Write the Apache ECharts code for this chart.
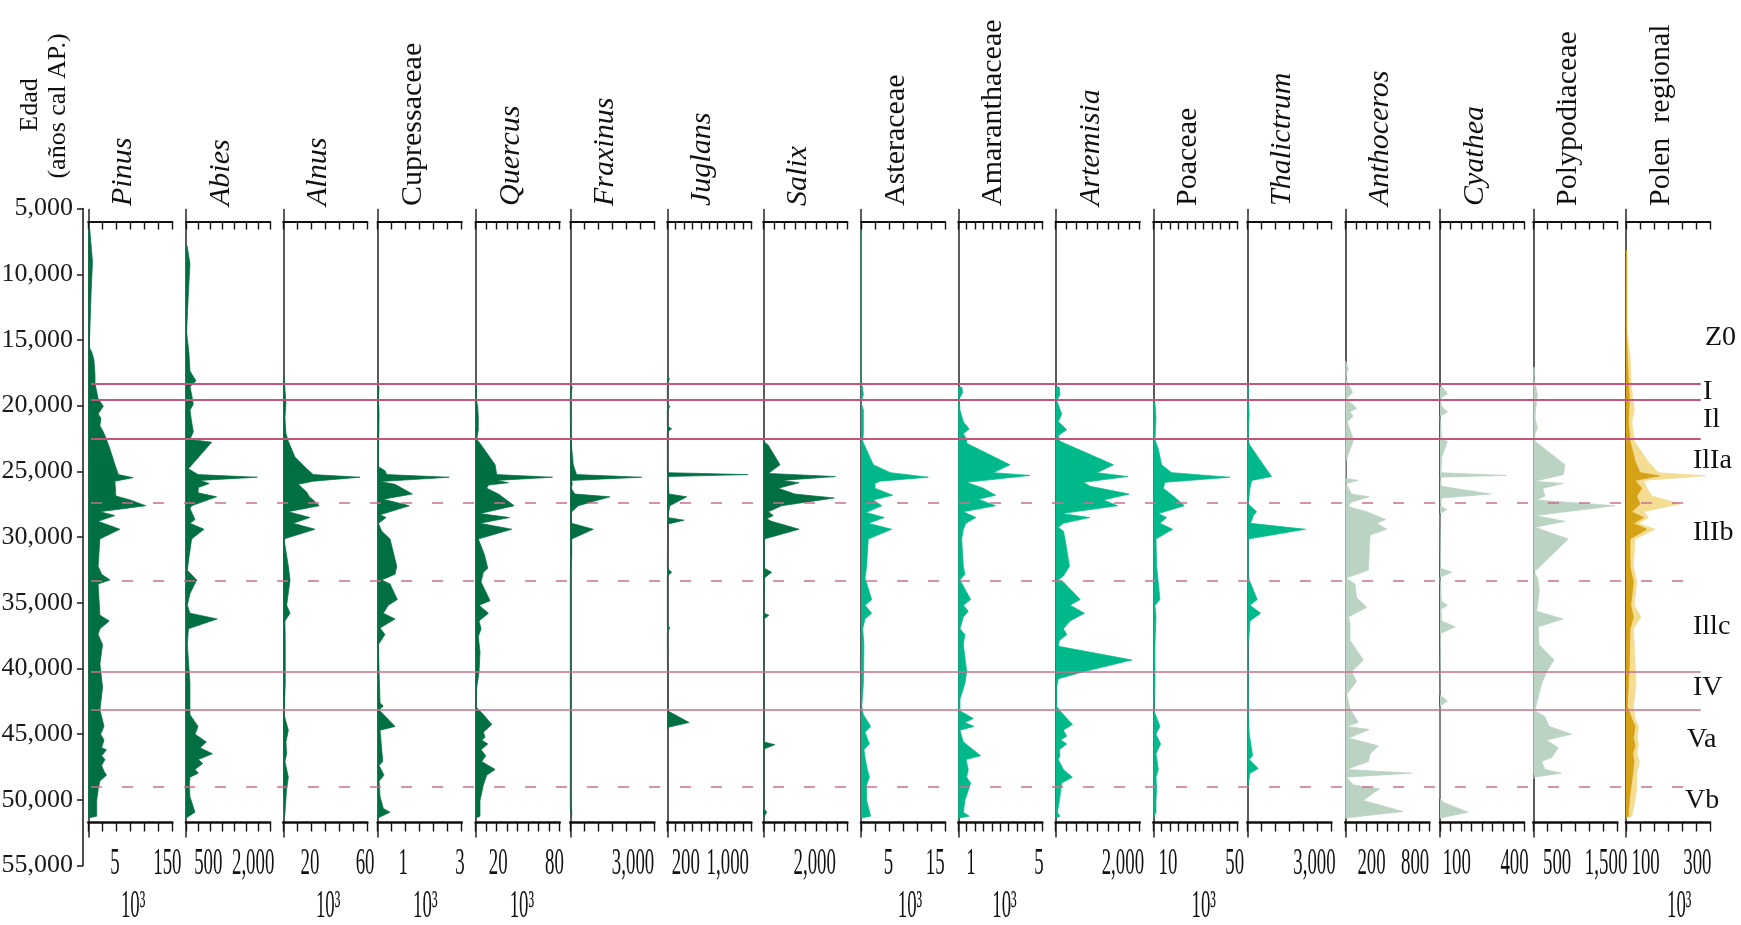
<!DOCTYPE html>
<html>
<head>
<meta charset="utf-8">
<title>Diagrama polínico</title>
<script src="https://cdn.jsdelivr.net/npm/echarts@6/dist/echarts.min.js"></script>
<style>
  html, body { margin: 0; padding: 0; background: #ffffff; }
  #chart { width: 1741px; height: 925px; }
</style>
</head>
<body>
<div id="chart"></div>
<script>
// ---------------------------------------------------------------------------
// Concentraciones por taxón: pares [edad cal AP, valor en unidades de escala]
// ---------------------------------------------------------------------------
const pinus = [[6520,0.1],[9050,0.3],[11430,0.2],[15590,0.07],[15890,0.24],[16480,0.4],[17670,0.48],[18320,0.48],[19450,0.7],[20050,1.07],[20640,0.7],[20940,0.9],[21530,0.83],[21980,1.07],[22570,1.3],[23320,1.55],[24800,2.0],[25250,2.15],[25480,3.2],[25750,1.9],[26880,1.97],[27180,3.0],[27620,4.1],[28070,0.83],[28370,1.9],[28810,0.7],[29410,2.26],[30150,0.83],[32230,0.7],[32830,0.95],[33270,1.55],[33570,0.7],[35200,0.79],[35950,0.83],[36390,1.5],[36990,0.83],[37430,0.7],[38180,1.02],[39660,0.83],[41440,1.02],[43170,0.83],[43670,0.95],[44420,1.12],[45010,0.88],[45460,1.12],[46050,0.95],[46200,1.3],[46650,0.95],[46940,1.19],[47390,0.95],[47830,1.12],[48130,1.3],[48580,0.83],[49170,0.71],[50060,0.6],[51250,0.6],[51400,0]];
const abies = [[7860,0.1],[9200,0.33],[11430,0.2],[14400,0.05],[16030,0.25],[17370,0.33],[18110,0.83],[18560,0.33],[19150,0.47],[19900,0.61],[20340,0.33],[21230,0.47],[21980,0.61],[22570,0.33],[22780,2.14],[24800,0.2],[25250,1.0],[25450,5.94],[25690,1.17],[25930,1.94],[26230,1.03],[26640,1.0],[26940,2.55],[27620,0.47],[27830,0.33],[28670,0.75],[28960,0.33],[29410,1.5],[30150,0.47],[31340,0.28],[32530,0.11],[33270,0.89],[34310,0.33],[35200,0.11],[35800,0.33],[36240,2.6],[36990,0.2],[38180,0.11],[41150,0.33],[43520,0.33],[44420,1.0],[45010,0.75],[45600,1.7],[46050,1.17],[46500,2.2],[46940,1.03],[47240,1.39],[47690,0.75],[47980,1.03],[48280,0.33],[48870,0.28],[49770,0.33],[50950,0.75],[51400,0]];
const alnus = [[17820,0.05],[19750,0.19],[20940,0.12],[22130,0.19],[22720,0.36],[23910,0.83],[24800,1.67],[25250,2.14],[25450,5.48],[25750,2.14],[25990,1.07],[26580,1.67],[26940,1.86],[27180,2.14],[27620,2.57],[28070,0.36],[28520,1.9],[28960,0.71],[29410,2.26],[30150,0.05],[32230,0.36],[33270,0.48],[35200,0.24],[35800,0.48],[36390,0.12],[38180,0.14],[41150,0.14],[43520,0.05],[44710,0.36],[45600,0.19],[46500,0.24],[47090,0.12],[48280,0.36],[49170,0.24],[51250,0.1],[51400,0]];
const cupressaceae = [[18560,0.1],[19450,0.05],[20640,0.1],[22720,0.07],[24650,0.05],[24950,0.52],[25250,0.64],[25450,5.1],[25780,0.17],[25990,1.24],[26730,2.48],[27120,0.4],[27620,2.26],[28310,0.17],[28520,0.6],[28960,0.05],[29560,0.29],[30150,0.88],[32230,1.36],[32830,1.24],[33270,0.29],[33570,0.88],[34760,1.4],[35200,0.76],[35800,0.4],[36240,1.24],[36930,0.17],[37430,0.52],[38180,0.05],[40260,0.1],[42630,0.17],[42870,0.4],[43170,0.1],[44420,1.24],[44710,0.17],[47090,0.36],[47390,0.1],[48130,0.45],[48580,0.1],[49770,0.17],[50660,0.4],[50950,0.88],[51400,0]];
const quercus = [[18560,0.1],[19450,0.03],[20050,0.19],[20940,0.25],[21830,0.25],[22570,0.1],[22870,0.41],[24500,1.85],[25250,2.0],[25450,7.32],[25690,2.0],[25870,3.12],[26050,1.21],[26290,1.05],[26730,2.17],[27620,3.66],[28220,0.41],[28520,3.22],[28960,0.41],[29410,3.44],[30150,0.25],[31340,0.83],[32380,1.15],[32680,0.73],[33420,0.51],[34850,1.37],[35200,0.32],[35800,1.21],[36390,0.32],[36990,0.51],[37580,0.25],[38770,0.41],[40260,0.32],[41440,0.1],[42930,0.03],[43520,0.73],[44270,1.53],[44860,0.73],[45250,0.89],[45460,0.57],[45750,1.15],[46200,0.51],[46650,0.96],[47090,0.57],[47690,1.85],[48130,1.05],[48870,0.73],[50060,0.41],[51250,0.41],[51400,0]];
const fraxinus = [[18560,0.14],[19000,0.05],[19450,0],[20340,0],[20490,0.14],[20790,0],[22720,0.05],[24500,0.21],[25250,0.45],[25450,5.1],[25690,0.1],[25990,0.14],[26290,0.05],[26730,0.33],[26940,2.83],[27620,0.57],[28130,0.05],[28960,0.1],[29410,1.64],[30150,0.1],[31340,0.1],[32680,0],[45460,0],[45600,0.14],[45750,0],[50510,0],[50810,0.1],[51250,0.1],[51400,0]];
const juglans = [[17910,0.28],[18260,0.04],[18560,0],[19900,0],[20050,0.3],[20340,0],[21530,0],[21770,0.52],[21980,0],[25100,0],[25250,9.6],[25400,0],[26730,0.2],[26940,2.3],[27620,0.3],[28520,0.04],[28720,2.0],[29020,0.04],[32380,0],[32680,0.52],[32970,0],[36690,0],[36930,0.3],[37220,0],[43230,0.04],[43380,0.2],[44120,2.6],[44480,0.12],[44710,0]];
const salix = [[22720,0],[23020,0.48],[24500,1.59],[25160,0.48],[25400,6.86],[25690,1.75],[25870,3.4],[26290,1.43],[26730,3.0],[27030,6.76],[27620,1.75],[28070,0.48],[28370,0.95],[28610,0.32],[28810,0.79],[29410,3.4],[30150,0.1],[32380,0.1],[32680,0.79],[33120,0.1],[35800,0.06],[35950,0.54],[36240,0.06],[45600,0.06],[45810,1.1],[46140,0.06],[50660,0.06],[50950,0.32],[51400,0]];
const asteraceae = [[6600,0],[6750,0.1],[6950,0],[18300,0],[18560,0.1],[19150,0.17],[19750,0],[20340,0.17],[22130,0.17],[22720,0.12],[24500,0.88],[25100,2.1],[25450,4.81],[25750,1.36],[25930,1.0],[26290,1.0],[26820,2.26],[27180,0.88],[27620,1.48],[28130,0.36],[28520,1.67],[28960,0.52],[29410,2.19],[30150,0.52],[32230,0.4],[33120,0.29],[34760,0.76],[35200,0.29],[35800,0.76],[36240,0.29],[36990,0.12],[38180,0.21],[41150,0.17],[42930,0.05],[43520,0.17],[44420,0.69],[44860,0.29],[45750,0.6],[46200,0.21],[46790,0.29],[47690,0.45],[48280,0.6],[48870,0.4],[50060,0.4],[51250,0.69],[51400,0]];
const amaranthaceae = [[18560,0.4],[19000,0.52],[19450,0.12],[20340,0.2],[21230,0.6],[21770,1.3],[22130,0.6],[22570,1.0],[22870,1.0],[24500,6.15],[25100,4.17],[25310,8.53],[25840,1.0],[26290,2.98],[26820,4.44],[27120,2.38],[27620,4.44],[28070,0.6],[28520,2.1],[28960,0.91],[29410,0.6],[30150,0.4],[32230,0.6],[32830,0.79],[33270,0.2],[34760,1.47],[35200,0.6],[35650,1.19],[36090,0.6],[36990,0.2],[37430,0.79],[38180,0.6],[40260,1.0],[41150,0.79],[42340,0.2],[43230,0.2],[43820,1.79],[44120,0.79],[44420,1.87],[44710,0.2],[45600,0.6],[46650,2.66],[46940,0.91],[47690,1.19],[48280,0.99],[48730,1.47],[50060,0.79],[50950,0.6],[51250,1.31],[51400,0]];
const artemisia = [[18560,0.32],[19150,0.41],[19600,0.1],[20640,0.57],[21230,0.25],[21830,1.05],[22270,0.25],[22720,0.41],[24500,5.51],[25100,3.92],[25400,6.85],[25840,2.64],[26140,3.28],[26730,7.0],[27180,4.55],[27620,5.89],[28220,0.57],[28520,3.22],[28960,0.73],[29260,0.25],[29560,0.73],[30150,0.89],[32230,1.31],[32970,0.73],[33270,0.25],[33420,0.73],[34760,2.33],[35200,1.37],[35800,2.74],[36390,1.37],[36990,0.73],[37430,1.05],[37880,0.35],[38320,0.25],[39360,7.26],[40260,2.64],[40790,0.25],[41440,0.1],[42930,0.1],[43520,0.73],[44270,1.59],[44710,0.73],[45160,1.05],[45460,0.48],[45750,1.05],[46200,0.35],[46650,0.41],[46940,0.25],[47690,0.73],[48280,1.59],[48730,0.57],[50060,0.35],[50950,0.16],[51250,0.41],[51400,0]];
const poaceae = [[19750,0.2],[20940,0.32],[22570,0.2],[23320,0.6],[24500,0.99],[25100,2.18],[25450,9.13],[25840,1.39],[26290,1.19],[26880,2.38],[27620,3.69],[28220,0.6],[28520,1.59],[28960,0.79],[29410,2.3],[30150,0.32],[32230,0.4],[34760,0.79],[35200,0.2],[36090,0.32],[38180,0.2],[41150,0.2],[43230,0.08],[44420,0.79],[45010,0.32],[45750,0.87],[46500,0.32],[47690,0.6],[48280,0.32],[49170,0.4],[50060,0.32],[50950,0.32],[51400,0]];
const thalictrum = [[18560,0.09],[19450,0.05],[20640,0.14],[21530,0.09],[22720,0.07],[23020,0.19],[24500,1.14],[25400,1.73],[25690,0.31],[26290,0.19],[27480,0.07],[28070,0.66],[28370,0.43],[28960,0.24],[29410,4.15],[30150,0.07],[33120,0.07],[33720,0.31],[34760,0.71],[35200,0.19],[35800,0.95],[36390,0.19],[37280,0.14],[38180,0.05],[43520,0.07],[45010,0.14],[46650,0.38],[46940,0.14],[47630,0.78],[47980,0.19],[49020,0.05],[49170,0]];
const anthoceros = [[16630,0.06],[17220,0.29],[17520,0.13],[17970,0.06],[19000,0.7],[19450,0.13],[20190,1.08],[20490,0.45],[20790,0.76],[21230,0.19],[22420,0.7],[22720,0.76],[23320,0.45],[24210,0.06],[25540,0.06],[25690,1.24],[25930,0.06],[26730,0.61],[26940,2.29],[27330,0.61],[27620,0.29],[27770,0.61],[28070,2.04],[28670,3.85],[28960,3.0],[29410,3.95],[29850,2.36],[30750,2.29],[32530,2.2],[33120,0.06],[33570,0.92],[34610,1.08],[35350,2.04],[36090,0.29],[36540,0.45],[37880,0.45],[39360,1.72],[40260,0.61],[41000,1.08],[41980,0.13],[43080,0.45],[44120,1.24],[44420,0.13],[44650,2.29],[45310,0.29],[45900,3.15],[46500,2.36],[47090,2.2],[47690,0.13],[47980,6.3],[48280,0.13],[48870,0.76],[49170,3.31],[49470,2.68],[50060,1.72],[50900,5.5],[51400,0]];
const cyathea = [[18560,0.16],[19090,0.71],[19450,0],[20050,0.16],[20490,0.71],[20790,0],[22570,0.16],[22720,0.71],[23910,0.16],[25100,0.1],[25310,6.29],[25450,0],[26140,0.16],[26730,4.84],[27030,0.16],[27620,0],[27920,0.65],[28220,0],[32380,0.06],[32680,1.13],[33060,0],[34910,0.16],[35200,0.71],[35500,0.1],[36390,0.16],[36840,1.45],[37340,0.06],[42040,0],[42480,0.71],[42870,0],[49910,0],[50210,0.32],[50950,2.68],[51400,0]];
const polypodiaceae = [[17070,0.12],[17970,0.05],[19150,0.29],[20050,0.19],[20940,0.12],[21680,0.29],[22130,0.12],[22720,0.12],[24500,2.26],[25250,2.14],[25750,0.12],[25930,2.14],[26290,0.67],[26880,0.83],[27180,0.24],[27620,5.83],[28370,0.12],[28810,2.26],[29260,0.12],[30150,2.5],[32680,0.05],[33120,0.31],[34010,0.43],[35200,0.31],[35650,0.24],[36240,2.14],[36840,0.36],[38180,0.4],[39360,1.48],[40260,0.95],[41150,0.6],[42630,0.24],[43230,0.12],[43670,0.83],[44420,1.14],[45010,2.74],[45460,0.95],[46050,1.79],[46790,1.31],[47090,0.6],[47690,0.83],[47980,2.0],[48280,0.05],[48430,0]];
const polenRegionalTotal = [[8160,0.05],[14400,0.07],[16180,0.29],[18260,0.36],[19450,0.48],[20340,0.6],[21230,0.41],[22720,0.6],[24210,1.55],[25100,2.3],[25340,5.7],[25690,1.25],[26290,1.49],[26880,1.85],[27480,3.88],[28070,1.25],[28520,1.61],[28960,0.89],[29410,2.09],[30150,0.65],[32230,0.53],[33420,0.77],[35200,0.58],[36090,1.06],[36990,0.53],[39660,0.65],[41150,0.72],[42930,0.53],[43820,0.65],[44420,0.89],[45310,0.82],[45900,0.89],[46500,0.77],[47090,0.96],[47980,0.77],[49170,0.77],[50060,0.65],[51250,0.41],[51400,0]];
const polenRegional = [[8160,0.05],[14400,0.05],[16180,0.1],[18260,0.17],[19450,0.24],[21230,0.17],[22720,0.29],[24210,0.65],[25100,1.0],[25340,2.4],[25690,0.65],[26290,1.12],[26880,0.77],[27480,1.0],[28070,0.41],[28520,1.25],[28960,0.53],[29410,1.49],[30150,0.29],[32230,0.29],[33420,0.53],[35200,0.34],[36090,0.53],[36990,0.29],[39660,0.24],[41150,0.17],[42930,0.1],[43820,0.41],[44420,0.65],[45310,0.53],[45900,0.65],[46500,0.48],[47090,0.58],[47980,0.48],[49170,0.34],[50060,0.24],[51250,0.17],[51400,0]];

// Nombres de los taxones (columna por columna)
const taxonNames = ['Pinus','Abies','Alnus','Cupressaceae','Quercus','Fraxinus','Juglans','Salix','Asteraceae','Amaranthaceae','Artemisia','Poaceae','Thalictrum','Anthoceros','Cyathea','Polypodiaceae','Polen  regional'];
const taxonItalic = [true,true,true,false,true,true,true,true,false,false,true,false,true,true,true,false,false];
// Número de divisiones de cada escala horizontal
const scaleDivisions = [6,7,6,6,8,6,10,8,6,10,8,10,6,8,8,6,6];
// Rótulos de escala: [posición en divisiones, texto]
const scaleLabels = [
  [[1.9,'5'],[5.65,'150']],
  [[1.86,'500'],[5.6,'2,000']],
  [[1.9,'20'],[5.84,'60']],
  [[1.83,'1'],[5.88,'3']],
  [[2.15,'20'],[7.5,'80']],
  [[4.48,'3,000']],
  [[2.2,'200'],[7.2,'1,000']],
  [[4.9,'2,000']],
  [[1.97,'5'],[5.3,'15']],
  [[1.5,'1'],[9.6,'5']],
  [[6.4,'2,000']],
  [[1.75,'10'],[9.7,'50']],
  [[4.8,'3,000']],
  [[2.5,'200'],[6.65,'800']],
  [[1.6,'100'],[7.1,'400']],
  [[1.7,'500'],[5.2,'1,500']],
  [[1.4,'100'],[5.1,'300']]
];
// Factor ×10³ bajo la escala (posición en divisiones; null = sin factor)
const unitLabelPos = [3.2,null,3.2,3.4,4.4,null,null,null,3.5,5.5,null,6.0,null,null,null,null,3.8];
const unitLabelText = '10³';

// Límites de zonas polínicas (edad) y tipo de línea
const zoneBoundaries = [18320, 19570, 22510, 27390, 33330, 40255, 43165, 49050];
const zoneDashed = [false, false, false, true, true, false, false, true];
const zoneNames = ['Z0','I','Il','IlIa','IlIb','Illc','IV','Va','Vb'];
const zoneNameAges = [14850, 18940, 21090, 24150, 29700, 36860, 41500, 45460, 50060];

// Eje de edades
const ageMin = 5000, ageMax = 55000, ageStep = 5000;

// ---------------------------------------------------------------------------
// Estilo y composición
// ---------------------------------------------------------------------------
const FONT = '"Liberation Serif", "Times New Roman", serif';
const C_TREE = '#006f41', C_HERB = '#00b98a', C_FERN = '#bad3c2', C_REG = '#d5a117', C_REG_LIGHT = '#f4dc92';
const taxonColors = [C_TREE,C_TREE,C_TREE,C_TREE,C_TREE,C_TREE,C_TREE,C_TREE,C_HERB,C_HERB,C_HERB,C_HERB,C_HERB,C_FERN,C_FERN,C_FERN,C_REG];
const taxonLayers = [
  [pinus],[abies],[alnus],[cupressaceae],[quercus],[fraxinus],[juglans],[salix],
  [asteraceae],[amaranthaceae],[artemisia],[poaceae],[thalictrum],
  [anthoceros],[cyathea],[polypodiaceae],[polenRegionalTotal, polenRegional]
];

const PANEL_LEFT = [88.3,186,283.3,377.7,475.7,570.3,667.3,763.3,861,958.3,1055.7,1153.3,1247.3,1345.3,1440,1533.3,1626];
const PANEL_W = 84;
const Y_AT_MIN = 208.6, Y_AT_MAX = 865.4;              // píxeles de 5,000 y 55,000
const PX_PER_YR = (Y_AT_MAX - Y_AT_MIN) / (ageMax - ageMin);
const PANEL_TOP = 209.5, PANEL_BOTTOM = 837;
const TOP_AXIS_Y = 221.5, BOTTOM_AXIS_Y = 822.5;
const ZONE_LEFT = 91, ZONE_RIGHT = 1700.7;
const zoneNameX = [1705,1703,1703,1693,1693,1693,1693,1687,1685];
const ageAtPx = y => ageMin + (y - Y_AT_MIN) / PX_PER_YR;
const thousands = v => String(v).replace(/\B(?=(\d{3})+(?!\d))/g, ',');

const chart = echarts.init(document.getElementById('chart'), null, { renderer: 'canvas', width: 1741, height: 925 });

const grids = [{
  left: ZONE_LEFT, top: Y_AT_MIN, width: ZONE_RIGHT - ZONE_LEFT, height: Y_AT_MAX - Y_AT_MIN,
  outerBoundsMode: 'none', show: false
}];
const xAxes = [{ gridIndex: 0, type: 'value', min: 0, max: 1, show: false }];
const yAxes = [{
  gridIndex: 0, type: 'value', min: ageMin, max: ageMax, interval: ageStep, inverse: true,
  position: 'left', offset: 8,
  axisLine: { show: true, onZero: false, lineStyle: { color: '#222', width: 1.6 } },
  axisTick: { show: true, inside: false, length: 6, lineStyle: { color: '#222', width: 1.6 } },
  axisLabel: { show: true, margin: 10, formatter: v => thousands(v), fontFamily: FONT, fontSize: 26, color: '#1a1a1a' },
  splitLine: { show: false }
}];
const series = [];

taxonNames.forEach((name, i) => {
  const g = i + 1;
  grids.push({ left: PANEL_LEFT[i], top: PANEL_TOP, width: PANEL_W, height: PANEL_BOTTOM - PANEL_TOP, outerBoundsMode: 'none', show: false });
  const axisBase = {
    gridIndex: g, type: 'value', min: 0, max: scaleDivisions[i], interval: 1,
    axisLabel: { show: false }, splitLine: { show: false }
  };
  xAxes.push(Object.assign({}, axisBase, {
    position: 'top', offset: -(TOP_AXIS_Y - PANEL_TOP),
    axisLine: { show: true, onZero: false, lineStyle: { color: '#111', width: 2.2 } },
    axisTick: { show: true, inside: true, length: 8, lineStyle: { color: '#111', width: 1.4 } }
  }));
  xAxes.push(Object.assign({}, axisBase, {
    position: 'bottom', offset: -(PANEL_BOTTOM - BOTTOM_AXIS_Y),
    axisLine: { show: true, onZero: false, lineStyle: { color: '#111', width: 2.6 } },
    axisTick: { show: true, inside: false, length: 9, lineStyle: { color: '#111', width: 1.4 } }
  }));
  yAxes.push({
    gridIndex: g, type: 'time', min: ageAtPx(PANEL_TOP), max: ageAtPx(PANEL_BOTTOM), inverse: true,
    axisLine: { show: true, onZero: false, lineStyle: { color: '#333', width: 1.6 } },
    axisTick: { show: false }, axisLabel: { show: false }, splitLine: { show: false }
  });
  taxonLayers[i].forEach((layer, k) => {
    const color = (i === 16 && k === 0) ? C_REG_LIGHT : taxonColors[i];
    series.push({
      type: 'line', name: name,
      xAxisIndex: 2 * i + 2, yAxisIndex: g,
      data: layer.map(([age, v]) => [v, age]),
      symbol: 'none', showSymbol: false, silent: true, z: 2 + k,
      lineStyle: { color: color, width: 0.7 },
      areaStyle: { color: color, opacity: 1 }
    });
  });
});

// Líneas de zonas sobre todas las columnas
const solidStyle = k => ({ type: 'solid', color: k < 3 ? '#c2557c' : '#c9708f', width: k < 3 ? 2 : 1.5 });
const dashStyle = { type: [11, 20], color: '#c9708f', width: 1.6 };
series.push({
  type: 'line', xAxisIndex: 0, yAxisIndex: 0, data: [], silent: true, z: 10,
  markLine: {
    silent: true, symbol: ['none', 'none'], animation: false,
    label: { show: false },
    data: zoneBoundaries.map((age, k) => ({ yAxis: age, lineStyle: zoneDashed[k] ? dashStyle : solidStyle(k) }))
  }
});

chart.setOption({
  animation: false,
  backgroundColor: '#ffffff',
  grid: grids, xAxis: xAxes, yAxis: yAxes, series: series
});

// Textos: títulos, rótulos de escala y nombres de zona
const graphics = [];
const textStyle = (text, size, extra) => Object.assign({ text: text, fontFamily: FONT, fontSize: size, fill: '#111' }, extra || {});

graphics.push({ type: 'text', x: 30, y: 105, rotation: Math.PI / 2, silent: true,
  style: textStyle('Edad', 26, { textAlign: 'center', textVerticalAlign: 'middle' }) });
graphics.push({ type: 'text', x: 58, y: 106, rotation: Math.PI / 2, silent: true,
  style: textStyle('(años cal AP.)', 26, { textAlign: 'center', textVerticalAlign: 'middle' }) });

taxonNames.forEach((name, i) => {
  graphics.push({ type: 'text', x: PANEL_LEFT[i] + 35, y: 206, rotation: Math.PI / 2, silent: true,
    style: textStyle(name, 30, { fontStyle: taxonItalic[i] ? 'italic' : 'normal', textAlign: 'left', textVerticalAlign: 'middle' }) });
  scaleLabels[i].forEach(([pos, text]) => {
    const x = chart.convertToPixel({ xAxisIndex: 2 * i + 2 }, pos);
    graphics.push({ type: 'text', x: x, y: 864, scaleX: 0.51, silent: true,
      style: textStyle(text, 37, { textAlign: 'center', textVerticalAlign: 'middle' }) });
  });
  if (unitLabelPos[i] != null) {
    const x = chart.convertToPixel({ xAxisIndex: 2 * i + 2 }, unitLabelPos[i]);
    graphics.push({ type: 'text', x: x, y: 906, scaleX: 0.47, silent: true,
      style: textStyle(unitLabelText, 40, { textAlign: 'center', textVerticalAlign: 'middle' }) });
  }
});

zoneNames.forEach((z, k) => {
  const y = chart.convertToPixel({ yAxisIndex: 0 }, zoneNameAges[k]);
  graphics.push({ type: 'text', x: zoneNameX[k], y: y, silent: true,
    style: textStyle(z, 28, { textAlign: 'left', textVerticalAlign: 'middle' }) });
});

chart.setOption({ graphic: { elements: graphics } });
</script>
</body>
</html>
